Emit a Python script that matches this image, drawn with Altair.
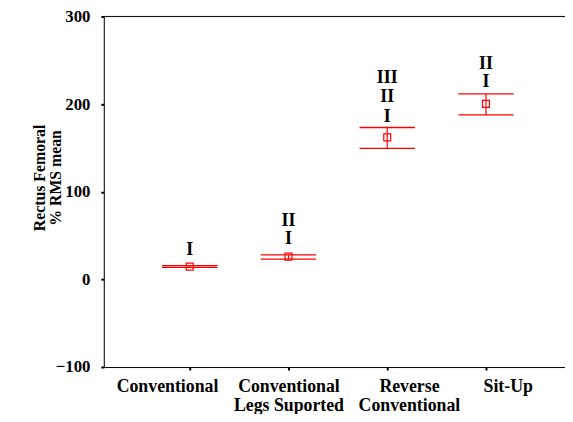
import altair as alt
import pandas as pd

# ---- data ----
categories = ["Conventional", "Conventional|Legs Suported", "Reverse|Conventional", "Sit-Up"]
means = [14.6, 26.0, 162.0, 200.3]
lower = [13.8, 23.0, 149.6, 187.6]
upper = [15.6, 27.9, 173.3, 211.6]

ann_group = [0, 1, 1, 2, 2, 2, 3, 3]
ann_text = ["I", "I", "II", "I", "II", "III", "I", "II"]
ann_y = [34, 46, 67, 185, 208, 230, 225, 246]

y_ticks = [-100, 0, 100, 200, 300]

RED = "#ff0000"
FONT = "'Liberation Serif', 'Times New Roman', serif"
W, H = 467, 355

df = pd.DataFrame({
    "idx": list(range(len(categories))),
    "cat": categories,
    "mean": means,
    "lo": lower,
    "hi": upper,
})
df["left"] = df["idx"] - 0.28
df["right"] = df["idx"] + 0.28

ann = pd.DataFrame({"idx": ann_group, "txt": ann_text, "y": ann_y})

label_list = "[" + ",".join("'" + c + "'" for c in categories) + "]"

xscale = alt.Scale(domain=[-0.87, 3.80], nice=False, zero=False)
yscale = alt.Scale(domain=[-100, 300], nice=False, zero=False)

xaxis = alt.Axis(
    values=list(range(len(categories))),
    labelExpr="split(" + label_list + "[datum.value], '|')",
    grid=False, title=None,
    labelFont=FONT, labelFontWeight="bold", labelFontSize=18, labelColor="black",
    labelLineHeight=19, labelPadding=8, labelBaseline="top",
    labelOffset={"condition": [{"test": "datum.value == 0", "value": -23},
                               {"test": "datum.value >= 2", "value": 22}],
                 "value": 0},
    tickSize=3, tickWidth=2, tickColor="black",
    domainColor="black", domainWidth=1,
)
yaxis = alt.Axis(
    values=y_ticks, grid=False,
    title=["Rectus Femoral", "% RMS mean"],
    titleFont=FONT, titleFontWeight="bold", titleFontSize=16, titleColor="black",
    titleLineHeight=16, titleX=-65, titleY=163, titleAngle=-90,
    titleAlign="center", titleBaseline="middle",
    labelFont=FONT, labelFontWeight="bold", labelFontSize=17, labelColor="black",
    labelPadding=11,
    tickSize=3, tickWidth=2, tickColor="black",
    domainColor="black", domainWidth=1,
)

base = alt.Chart(df)

vert = base.mark_rule(color=RED, strokeWidth=1.2).encode(
    x=alt.X("idx:Q", scale=xscale, axis=xaxis),
    y=alt.Y("lo:Q", scale=yscale, axis=yaxis),
    y2="hi:Q",
)
cap_hi = base.mark_rule(color=RED, strokeWidth=1.3).encode(
    x="left:Q", x2="right:Q", y="hi:Q")
cap_lo = base.mark_rule(color=RED, strokeWidth=1.3).encode(
    x="left:Q", x2="right:Q", y="lo:Q")
pts = base.mark_point(shape="square", size=49, filled=False, color=RED,
                      strokeWidth=1.2, opacity=1).encode(
    x="idx:Q", y="mean:Q")

labels = alt.Chart(ann).mark_text(
    font=FONT, fontWeight="bold", fontSize=18, color="black",
    baseline="middle", align="center").encode(
    x="idx:Q", y="y:Q", text="txt:N")

top = alt.Chart(pd.DataFrame({"a": [0]})).mark_rule(color="black", strokeWidth=1).encode(
    x=alt.value(0), x2=alt.value(W), y=alt.datum(300))

chart = alt.layer(vert, cap_hi, cap_lo, pts, labels, top).properties(
    width=W, height=H,
    autosize=alt.AutoSizeParams(type="none"),
    padding={"left": 97, "top": 6, "right": 0, "bottom": 45},
).configure_view(stroke=None).configure(background="white")

chart.save("out.html", embed_options={"renderer": "svg", "actions": False})
